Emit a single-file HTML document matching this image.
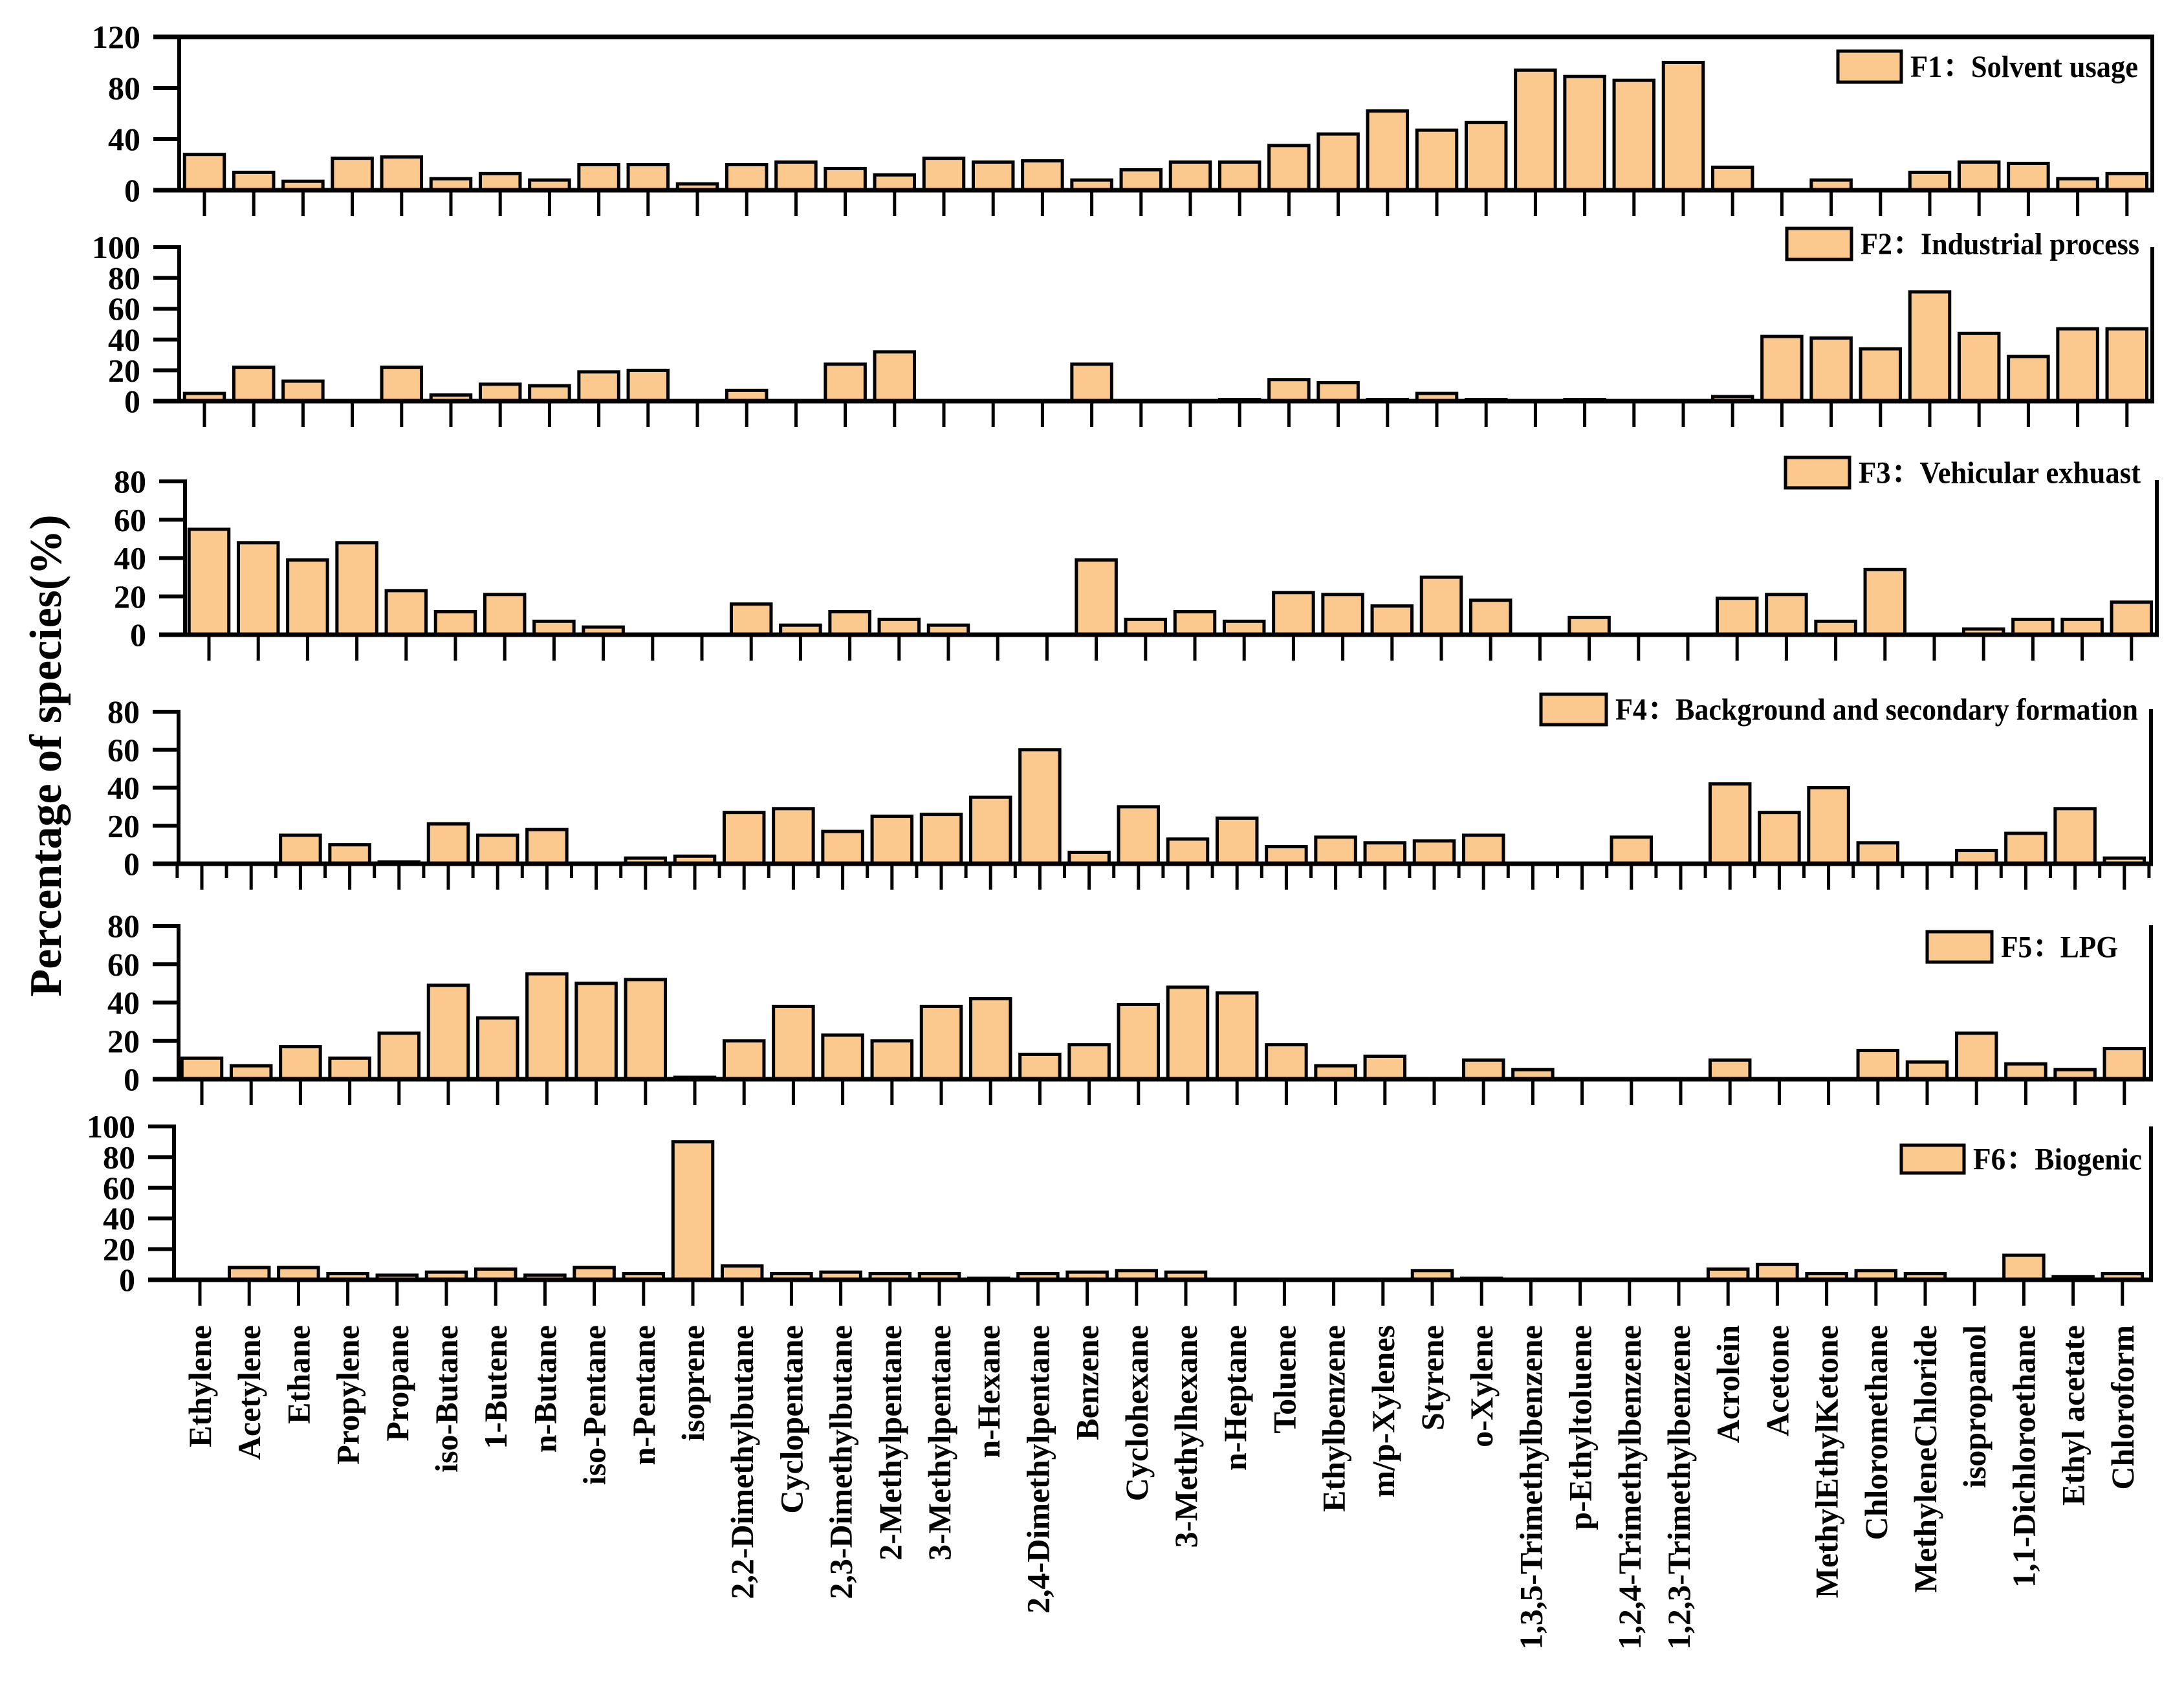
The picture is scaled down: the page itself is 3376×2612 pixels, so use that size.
<!DOCTYPE html>
<html><head><meta charset="utf-8"><style>
html,body{margin:0;padding:0;background:#fff;width:3376px;height:2612px;overflow:hidden}
svg{display:block}
text{font-family:"Liberation Serif","Noto Serif CJK SC",serif;font-weight:bold;fill:#000}
</style></head><body>
<svg id="chart" width="3376" height="2612" viewBox="0 0 3376 2612" xmlns="http://www.w3.org/2000/svg">
<text transform="translate(94,1168) rotate(-90)" text-anchor="middle" font-size="70">Percentage of species(%)</text>
</svg>
<script>
const categories=["Ethylene","Acetylene","Ethane","Propylene","Propane","iso-Butane","1-Butene","n-Butane","iso-Pentane","n-Pentane","isoprene","2,2-Dimethylbutane","Cyclopentane","2,3-Dimethylbutane","2-Methylpentane","3-Methylpentane","n-Hexane","2,4-Dimethylpentane","Benzene","Cyclohexane","3-Methylhexane","n-Heptane","Toluene","Ethylbenzene","m/p-Xylenes","Styrene","o-Xylene","1,3,5-Trimethylbenzene","p-Ethyltoluene","1,2,4-Trimethylbenzene","1,2,3-Trimethylbenzene","Acrolein","Acetone","MethylEthylKetone","Chloromethane","MethyleneChloride","isopropanol","1,1-Dichloroethane","Ethyl acetate","Chloroform"];
const f1Values=[28,14,7,25,26,9,13,8,20,20,5,20,22,17,12,25,22,23,8,16,22,22,35,44,62,47,53,94,89,86,100,18,0,8,0,14,22,21,9,13];
const f2Values=[5,22,13,0,22,4,11,10,19,20,0,7,0,24,32,0,0,0,24,0,0,1,14,12,1,5,1,0,1,0,0,3,42,41,34,71,44,29,47,47];
const f3Values=[55,48,39,48,23,12,21,7,4,0,0,16,5,12,8,5,0,0,39,8,12,7,22,21,15,30,18,0,9,0,0,19,21,7,34,0,3,8,8,17];
const f4Values=[0,0,15,10,1,21,15,18,0,3,4,27,29,17,25,26,35,60,6,30,13,24,9,14,11,12,15,0,0,14,0,42,27,40,11,0,7,16,29,3];
const f5Values=[11,7,17,11,24,49,32,55,50,52,1,20,38,23,20,38,42,13,18,39,48,45,18,7,12,0,10,5,0,0,0,10,0,0,15,9,24,8,5,16];
const f6Values=[0,8,8,4,3,5,7,3,8,4,90,9,4,5,4,4,1,4,5,6,5,0,0,0,0,6,1,0,0,0,0,7,10,4,6,4,0,16,2,4];
const legendLabels=["F1：Solvent usage","F2：Industrial process","F3：Vehicular exhuast","F4：Background and secondary formation","F5：LPG","F6：Biogenic"];
const f1Ticks=[0,40,80,120];
const f2Ticks=[0,20,40,60,80,100];
const f3Ticks=[0,20,40,60,80];
const f4Ticks=[0,20,40,60,80];
const f5Ticks=[0,20,40,60,80];
const f6Ticks=[0,20,40,60,80,100];

const NS="http://www.w3.org/2000/svg";
const svg=document.getElementById('chart');
function mk(tag,attrs,parent){const e=document.createElementNS(NS,tag);for(const k in attrs)e.setAttribute(k,attrs[k]);(parent||svg).appendChild(e);return e;}
const FILL="#FBC98E";
const panels=[
 {vals:f1Values,ticks:f1Ticks,max:120,axisX:277,top:57,zero:294,x0:316,right:3327,topLine:true,lg:[2841,79,2939,127,3305]},
 {vals:f2Values,ticks:f2Ticks,max:100,axisX:277,top:382,zero:620,x0:316,right:3327,rTop:382,lg:[2762,353,2862,401,3307]},
 {vals:f3Values,ticks:f3Ticks,max:80,axisX:286,top:744,zero:981,x0:323,right:3334,rTop:742,lg:[2760,707,2859,754,3309]},
 {vals:f4Values,ticks:f4Ticks,max:80,axisX:276,top:1100,zero:1335,x0:312,right:3325,rTop:1096,minor:true,lg:[2382,1073,2483,1120,3305]},
 {vals:f5Values,ticks:f5Ticks,max:80,axisX:276,top:1431,zero:1668,x0:312,right:3325,rTop:1430,lg:[2979,1440,3079,1487,3274]},
 {vals:f6Values,ticks:f6Ticks,max:100,axisX:269,top:1741,zero:1978,x0:309,right:3325,rTop:1741,lg:[2939,1770,3036,1813,3311]}
];
const STEP=76.2, BW=61.5;
panels.forEach((p,pi)=>{
  const g=mk('g',{});
  
  
  const y=v=>p.zero-(v/p.max)*(p.zero-p.top);
  const xc=i=>p.x0+i*STEP;
  p.vals.forEach((v,i)=>{
    const h=p.zero-y(v);
    const r=mk('rect',{x:xc(i)-BW/2,y:y(v),width:BW,height:Math.max(h,0.5),fill:FILL,stroke:"#000","stroke-width":5},g);
    
    
  });
  const ax=mk('line',{x1:p.axisX,y1:p.top-3,x2:p.axisX,y2:p.zero+3,stroke:"#000","stroke-width":6},g);
  
  
  p.ticks.forEach(t=>{
    mk('line',{x1:p.axisX-40,y1:y(t),x2:p.axisX,y2:y(t),stroke:"#000","stroke-width":6},g);
    const tl=mk('text',{x:p.axisX-60,y:y(t)+17,"text-anchor":"end","font-size":50},g);
    tl.textContent=t;
    
    
  });
  const xa=mk('line',{x1:p.axisX-40,y1:p.zero,x2:p.right+3,y2:p.zero,stroke:"#000","stroke-width":7},g);
  
  
  categories.forEach((c,i)=>{
    mk('line',{x1:xc(i),y1:p.zero,x2:xc(i),y2:p.zero+40,stroke:"#000","stroke-width":5},g);
    if(p.minor) mk('line',{x1:xc(i)-STEP/2,y1:p.zero,x2:xc(i)-STEP/2,y2:p.zero+22,stroke:"#000","stroke-width":5},g);
  });
  if(p.minor) mk('line',{x1:xc(categories.length-1)+STEP/2,y1:p.zero,x2:xc(categories.length-1)+STEP/2,y2:p.zero+22,stroke:"#000","stroke-width":5},g);
  if(p.topLine){
    mk('line',{x1:p.axisX-40,y1:p.top,x2:p.right+3,y2:p.top,stroke:"#000","stroke-width":7},g);
    mk('line',{x1:p.right,y1:p.top,x2:p.right,y2:p.zero,stroke:"#000","stroke-width":6},g);
  } else {
    mk('line',{x1:p.right,y1:p.rTop,x2:p.right,y2:p.zero,stroke:"#000","stroke-width":6},g);
  }
  const lg=mk('g',{},g);
  
  
  const [bx1,by1,bx2,by2,tx]=p.lg;
  mk('rect',{x:bx1,y:by1,width:bx2-bx1,height:by2-by1,fill:FILL,stroke:"#000","stroke-width":5},lg);
  const lt=mk('text',{x:bx2+14,y:(by1+by2)/2+16,"font-size":48,textLength:tx-(bx2+14),lengthAdjust:"spacingAndGlyphs"},lg);
  lt.textContent=legendLabels[pi];
});
const p6=panels[5];
categories.forEach((c,i)=>{
  const x=p6.x0+i*STEP;
  const t=mk('text',{transform:`translate(${x+17},2048) rotate(-90)`,"text-anchor":"end","font-size":50});
  t.textContent=c;
  
  
});
</script>
</body></html>
